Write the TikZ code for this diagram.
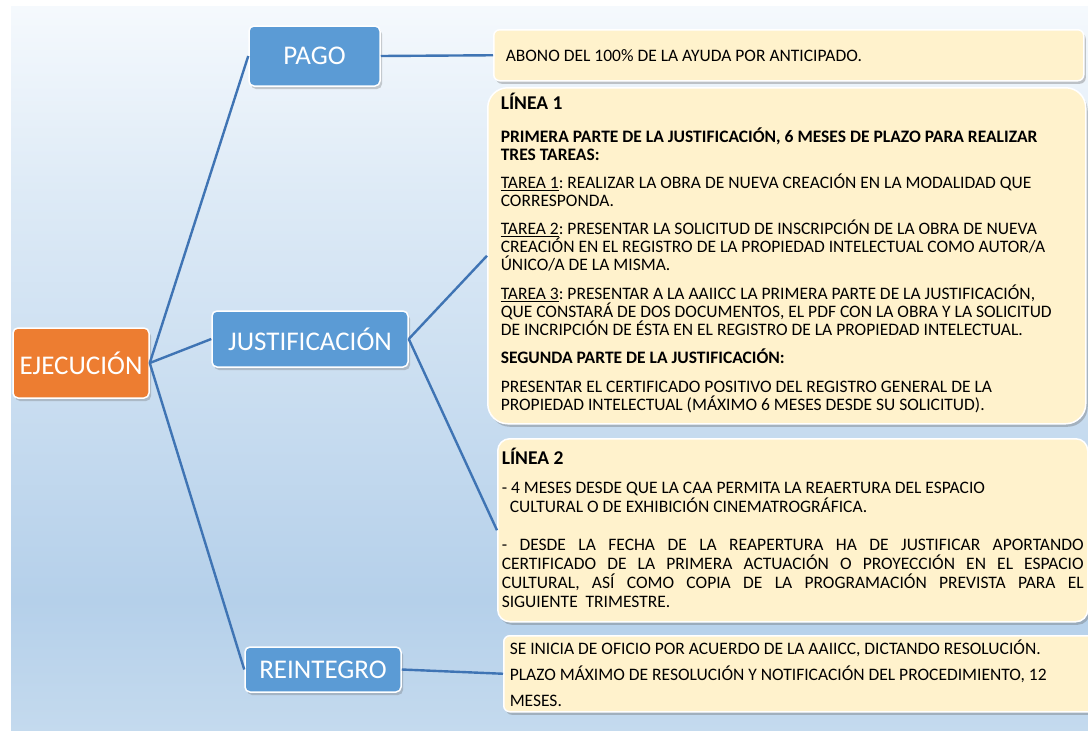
\documentclass[tikz,border=0pt]{standalone}
\usepackage{fontspec}
\setmainfont{Carlito}
\usetikzlibrary{shadows}
\definecolor{orangeN}{HTML}{ED7D31}
\definecolor{blueN}{HTML}{5B9BD5}
\definecolor{noteY}{HTML}{FFF2CC}
\definecolor{linkB}{HTML}{3F74B4}
\definecolor{bgtop}{HTML}{F5F9FD}
\definecolor{bglight}{HTML}{DDEAF6}
\definecolor{bgmid}{HTML}{CCDFF1}
\definecolor{bgdark}{HTML}{B5D0EA}
\definecolor{bgbot}{HTML}{C4DAEE}
\pgfdeclareverticalshading{bgshade}{100bp}{color(0bp)=(bgbot); color(25bp)=(bgbot); color(34bp)=(bgdark); color(50bp)=(bgmid); color(62bp)=(bglight); color(75bp)=(bgtop); color(100bp)=(bgtop)}
\newcommand{\jline}[1]{\makebox[\linewidth][s]{#1}}
\newcommand{\linehead}[1]{{\fontsize{19.5}{18}\selectfont\textbf{#1}}}
\frenchspacing
\begin{document}
\begin{tikzpicture}[x=1pt,y=-1pt,
  box/.style={rectangle, rounded corners=5pt, draw=white, line width=1.5pt, text=white,
    font=\fontsize{27}{30}\selectfont,
    drop shadow={shadow xshift=2pt, shadow yshift=-3pt, fill=black!60, opacity=0.3}},
  branch/.style={box, fill=blueN},
  note/.style={rectangle, draw=white, line width=1.5pt, fill=noteY, text=black, inner ysep=0pt,
    font=\fontsize{17.5}{18}\selectfont, anchor=north west,
    drop shadow={shadow xshift=2pt, shadow yshift=-3pt, fill=black!60, opacity=0.35}},
  link/.style={draw=linkB, line width=2.4pt}]
\useasboundingbox (0,0) rectangle (1088,731);
\path[shading=bgshade] (11,6) rectangle (1088,731);

\node[box, fill=orangeN, minimum width=136pt, minimum height=70pt] (ejec) at (81,363) {EJECUCIÓN};
\node[branch, minimum width=131pt, minimum height=60pt] (pago) at (314.5,56) {PAGO};
\node[branch, minimum width=196pt, minimum height=56pt] (justif) at (310,339) {JUSTIFICACIÓN};
\node[branch, minimum width=156pt, minimum height=45pt] (reint) at (323,669.5) {REINTEGRO};

\node[note, rounded corners=6pt, inner xsep=12pt] (abono) at (493,29) {\parbox[c][51pt][t]{566pt}{\rule{0pt}{31.5pt}ABONO DEL 100\% DE LA AYUDA POR ANTICIPADO.}};
\node[note, rounded corners=20pt, inner xsep=13pt] (linea1) at (487,87) {\parbox[c][336pt][t]{572pt}{\rule{0pt}{22pt}\linehead{LÍNEA 1}\\[15pt]
\textbf{PRIMERA PARTE DE LA JUSTIFICACIÓN, 6 MESES DE PLAZO PARA REALIZAR}\\
\textbf{TRES TAREAS:}\\[10pt]
\underline{TAREA 1}: REALIZAR LA OBRA DE NUEVA CREACIÓN EN LA MODALIDAD QUE\\
CORRESPONDA.\\[10pt]
\underline{TAREA 2}: PRESENTAR LA SOLICITUD DE INSCRIPCIÓN DE LA OBRA DE NUEVA\\
CREACIÓN EN EL REGISTRO DE LA PROPIEDAD INTELECTUAL COMO AUTOR/A\\
ÚNICO/A DE LA MISMA.\\[11pt]
\underline{TAREA 3}: PRESENTAR A LA AAIICC LA PRIMERA PARTE DE LA JUSTIFICACIÓN,\\
QUE CONSTARÁ DE DOS DOCUMENTOS, EL PDF CON LA OBRA Y LA SOLICITUD\\
DE INCRIPCIÓN DE ÉSTA EN EL REGISTRO DE LA PROPIEDAD INTELECTUAL.\\[10pt]
\textbf{SEGUNDA PARTE DE LA JUSTIFICACIÓN:}\\[11pt]
PRESENTAR EL CERTIFICADO POSITIVO DEL REGISTRO GENERAL DE LA\\
PROPIEDAD INTELECTUAL (MÁXIMO 6 MESES DESDE SU SOLICITUD).}};
\node[note, rounded corners=12pt, inner xsep=4pt, font=\fontsize{17.5}{19}\selectfont] (linea2) at (497,438) {\parbox[c][183pt][t]{582pt}{\rule{0pt}{26pt}\linehead{LÍNEA 2}\\[10pt]
- 4 MESES DESDE QUE LA CAA PERMITA LA REAERTURA DEL ESPACIO\\
\hspace*{8pt}CULTURAL O DE EXHIBICIÓN CINEMATROGRÁFICA.\\[19pt]
\jline{- DESDE LA FECHA DE LA REAPERTURA HA DE JUSTIFICAR APORTANDO}\\
\jline{CERTIFICADO DE LA PRIMERA ACTUACIÓN O PROYECCIÓN EN EL ESPACIO}\\
\jline{CULTURAL, ASÍ COMO COPIA DE LA PROGRAMACIÓN PREVISTA PARA EL}\\
SIGUIENTE\ \ TRIMESTRE.}};
\node[note, rounded corners=6pt, inner xsep=6pt, font=\fontsize{17.5}{26}\selectfont] (plazo) at (503,635) {\parbox[c][76pt][t]{580pt}{\rule{0pt}{18.5pt}SE INICIA DE OFICIO POR ACUERDO DE LA AAIICC, DICTANDO RESOLUCIÓN.\\
PLAZO MÁXIMO DE RESOLUCIÓN Y NOTIFICACIÓN DEL PROCEDIMIENTO, 12\\
MESES.}};

\draw[link] (ejec.east) -- (pago.west);
\draw[link] (ejec.east) -- (justif.west);
\draw[link] (ejec.east) -- (reint.west);
\draw[link] (pago.east) -- (abono.west);
\draw[link] (justif.east) -- (linea1.west);
\draw[link] (justif.east) -- (linea2.west);
\draw[link] (reint.east) -- (plazo.west);
\end{tikzpicture}
\end{document}
